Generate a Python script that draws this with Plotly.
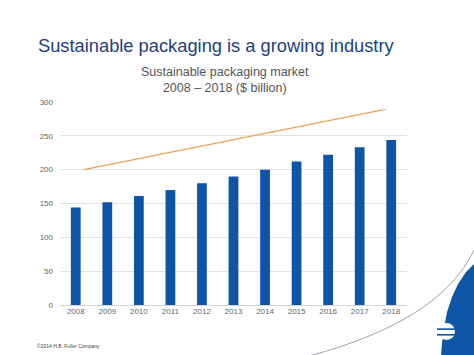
import plotly.graph_objects as go

# ---- data ----
years = [2008, 2009, 2010, 2011, 2012, 2013, 2014, 2015, 2016, 2017, 2018]
market_values = [144, 152, 161, 170, 180, 190, 200, 212, 222, 233, 244]
trend_years = [2008.25, 2017.9]
trend_values = [200, 290]
y_ticks = [0, 50, 100, 150, 200, 250, 300]

W, H = 474, 355
ML, MR, MT, MB = 60, 67, 102, 50
PW, PH = W - ML - MR, H - MT - MB

def px(x, y):
    """pixel -> paper coordinates"""
    return (x - ML) / PW, (H - MB - y) / PH

def bez(p0, p1, p2, n=24):
    pts = []
    for i in range(n + 1):
        t = i / n
        x = (1 - t) ** 2 * p0[0] + 2 * (1 - t) * t * p1[0] + t * t * p2[0]
        y = (1 - t) ** 2 * p0[1] + 2 * (1 - t) * t * p1[1] + t * t * p2[1]
        pts.append(px(x, y))
    return pts

def to_path(pts, close=False):
    s = "M " + " L ".join(f"{x:.5f},{y:.5f}" for x, y in pts)
    return s + (" Z" if close else "")

FONT = "Liberation Sans, Arial, Helvetica, sans-serif"
BLUE = "#0f55a6"

fig = go.Figure()
fig.add_trace(go.Bar(x=years, y=market_values, marker_color=BLUE,
                     marker_line_width=0, width=0.31, showlegend=False))
fig.add_trace(go.Scatter(x=trend_years, y=trend_values, mode="lines+markers",
                         line=dict(color="#e6a452", width=1.3),
                         marker=dict(symbol="arrow", size=[0, 6], angleref="previous",
                                     color="#e6a452"),
                         showlegend=False))

annotations = []
tx, ty = px(36, 45)
annotations.append(dict(text="Sustainable packaging is a growing industry", x=tx, y=ty,
                        xref="paper", yref="paper", xanchor="left", yanchor="middle",
                        showarrow=False, font=dict(family=FONT, size=18.3, color="#1e3f7c")))
sx, sy = px(225, 80)
annotations.append(dict(text="Sustainable packaging market<br>2008 – 2018 ($ billion)", x=sx, y=sy,
                        xref="paper", yref="paper", xanchor="center", yanchor="middle",
                        showarrow=False, align="center",
                        font=dict(family=FONT, size=12.5, color="#555555")))
fx, fy = px(35, 346)
annotations.append(dict(text="©2014 H.B. Fuller Company", x=fx, y=fy,
                        xref="paper", yref="paper", xanchor="left", yanchor="middle",
                        showarrow=False, font=dict(family=FONT, size=5, color="#444444")))

shapes = []
# blue swoosh (simple polygon approximation of the corner band)
blue_pts = [px(474, 264), px(466, 272), px(458, 284), px(452, 297), px(447, 312),
            px(444, 328), px(442, 343), px(441, 356), px(474, 356)]
shapes.append(dict(type="path", xref="paper", yref="paper", layer="above",
                   path=to_path(blue_pts, close=True),
                   fillcolor=BLUE, line=dict(width=0)))
# gray thin curve
shapes.append(dict(type="path", xref="paper", yref="paper", layer="above",
                   path=to_path(bez((474, 250), (440, 322), (305, 357))),
                   line=dict(color="#9aa3ad", width=1)))
# logo circle
c0 = px(438, 323); c1 = px(455, 340)
shapes.append(dict(type="circle", xref="paper", yref="paper", layer="above",
                   x0=c0[0], y0=c0[1], x1=c1[0], y1=c1[1],
                   fillcolor="white", line=dict(width=0)))
for yy in (328.3, 334):
    l0 = px(437, yy); l1 = px(456, yy + 1.6)
    shapes.append(dict(type="rect", xref="paper", yref="paper", layer="above",
                       x0=l0[0], y0=l0[1], x1=l1[0], y1=l1[1],
                       fillcolor=BLUE, line=dict(width=0)))

fig.update_layout(
    width=W, height=H,
    margin=dict(l=ML, r=MR, t=MT, b=MB),
    paper_bgcolor="white", plot_bgcolor="white",
    font=dict(family=FONT, color="#666666"),
    xaxis=dict(tickmode="array", tickvals=years, ticktext=[str(y) for y in years],
               range=[2007.5, 2018.5], showgrid=False, zeroline=False, showline=False,
               tickfont=dict(size=8, color="#666666"), ticks=""),
    yaxis=dict(range=[0, 300], tickvals=y_ticks, showgrid=True, gridcolor="#e2e2e2",
               gridwidth=1, zeroline=True, zerolinecolor="#d5d5d5", zerolinewidth=1,
               showline=False, tickfont=dict(size=8, color="#666666"), ticks="",
               ticklabelstandoff=6),
    annotations=annotations,
    shapes=shapes,
)

fig.write_html("out.html", config={"displayModeBar": False},
               post_script=["document.body.style.margin='0';"])
